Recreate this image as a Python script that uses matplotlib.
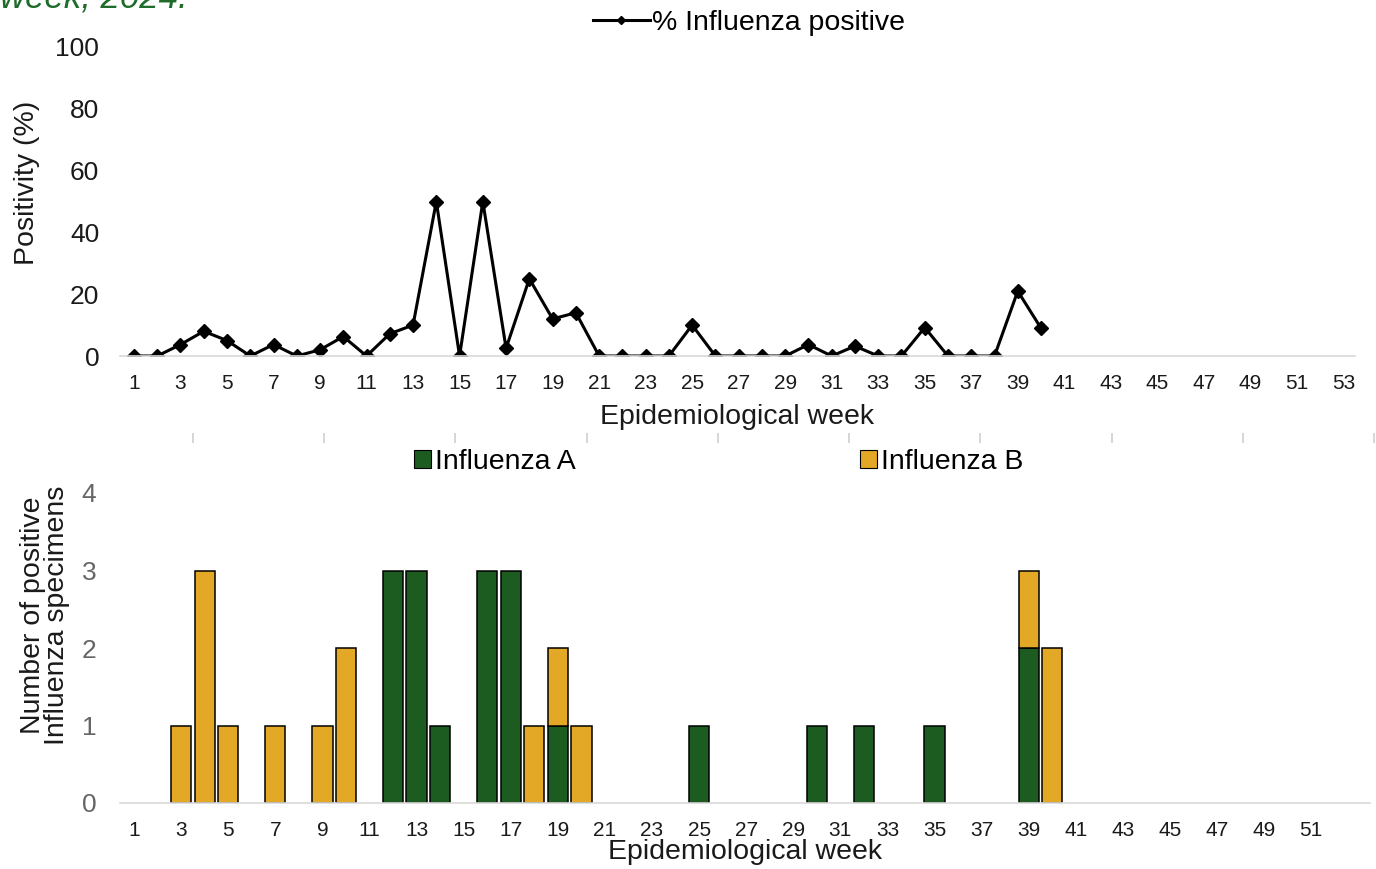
import matplotlib
matplotlib.use("Agg")
import matplotlib.pyplot as plt
from matplotlib.patches import Patch
import numpy as np

plt.rcParams['font.family'] = ['Liberation Sans', 'DejaVu Sans']

# ---- data ----
weeks_pos = list(range(1, 41))
positivity = [0, 0, 3.7, 8, 5, 0, 3.7, 0, 2, 6.3, 0, 7.2, 10, 50, 0, 50, 2.5, 25, 12, 14,
              0, 0, 0, 0, 10, 0, 0, 0, 0, 3.7, 0, 3.2, 0, 0, 9.2, 0, 0, 0, 21, 9]

weeks_bar = list(range(1, 53))
flu_a = [0]*52
flu_b = [0]*52
a_vals = {12: 3, 13: 3, 14: 1, 16: 3, 17: 3, 19: 1, 25: 1, 30: 1, 32: 1, 35: 1, 39: 2}
b_vals = {3: 1, 4: 3, 5: 1, 7: 1, 9: 1, 10: 2, 18: 1, 19: 1, 20: 1, 39: 1, 40: 2}
for w, v in a_vals.items():
    flu_a[w-1] = v
for w, v in b_vals.items():
    flu_b[w-1] = v

top_ticks = list(range(1, 54, 2))
bot_ticks = list(range(1, 52, 2))

green = '#1c5c20'
gold = '#e3a926'
title_green = '#1e6b2a'
txt = '#1a1a1a'
LFS = 20.5

W, H = 1376, 869
fig = plt.figure(figsize=(W/100, H/100), dpi=100)

def fx(px):
    return px / W

def fy(py):
    return 1 - py / H

# title fragment (clipped at top)
fig.text(fx(0), fy(8), "week, 2024.", color=title_green, style='italic',
         fontsize=25, va='baseline', ha='left')

# ---- top panel ----
ax1 = fig.add_axes([fx(120), fy(356), fx(1355) - fx(120), fy(47) - fy(356)])
ax1.plot(weeks_pos, positivity, color='black', lw=2.2, marker='D', markersize=7,
         label='% Influenza positive')
ax1.set_xlim(0.4, 53.5)
ax1.set_ylim(0, 100)
ax1.set_yticks([0, 20, 40, 60, 80, 100])
ax1.set_xticks(top_ticks)
for s in ['top', 'right', 'left']:
    ax1.spines[s].set_visible(False)
ax1.spines['bottom'].set_color('#d9d9d9')
ax1.spines['bottom'].set_linewidth(1.2)
ax1.tick_params(axis='both', length=0)
ax1.tick_params(axis='y', labelsize=19, labelcolor=txt, pad=15)
ax1.tick_params(axis='x', labelsize=15, labelcolor=txt, pad=13)
ax1.set_xlabel('Epidemiological week', fontsize=LFS, color=txt, labelpad=8)
ax1.set_ylabel('Positivity (%)', fontsize=LFS, color=txt)
ax1.yaxis.set_label_coords(-0.065, 0.56)
fig.legend(*ax1.get_legend_handles_labels(), loc='center',
           bbox_to_anchor=(fx(749), fy(23)), frameon=False,
           fontsize=LFS, handlelength=2.0, handletextpad=0.1, markerscale=0.55,
           borderpad=0, borderaxespad=0)

# faint separator ticks
axs = fig.add_axes([fx(193), fy(438), fx(1374) - fx(193), 0.0001])
axs.set_xlim(0, 9)
axs.set_xticks(range(10))
axs.set_xticklabels([])
axs.set_yticks([])
for s in axs.spines.values():
    s.set_visible(False)
axs.tick_params(axis='x', direction='inout', length=7, color='#d0d0d0', width=1.2)
axs.patch.set_visible(False)

# ---- bottom panel ----
a_plot = [v if v else np.nan for v in flu_a]
b_plot = [v if v else np.nan for v in flu_b]
ax2 = fig.add_axes([fx(120), fy(803), fx(1370) - fx(120), fy(493) - fy(803)])
ax2.bar(weeks_bar, a_plot, width=0.86, color=green, edgecolor='black', linewidth=1.1,
        label='Influenza A')
ax2.bar(weeks_bar, b_plot, bottom=flu_a, width=0.86, color=gold, edgecolor='black',
        linewidth=1.1, label='Influenza B')
ax2.set_xlim(0.4, 53.5)
ax2.set_ylim(0, 4)
ax2.set_yticks([0, 1, 2, 3, 4])
ax2.set_xticks(bot_ticks)
for s in ['top', 'right', 'left']:
    ax2.spines[s].set_visible(False)
ax2.spines['bottom'].set_color('#d9d9d9')
ax2.spines['bottom'].set_linewidth(1.2)
ax2.tick_params(axis='both', length=0)
ax2.tick_params(axis='y', labelsize=19, labelcolor='#666666', pad=17)
ax2.tick_params(axis='x', labelsize=15, labelcolor=txt, pad=13)
ax2.set_xlabel('Epidemiological week', fontsize=LFS, color=txt, labelpad=-1)
ax2.set_ylabel('Number of positive\nInfluenza specimens', fontsize=LFS, color=txt,
               linespacing=0.9)
ax2.yaxis.set_label_coords(-0.04, 0.606)
handles = [Patch(facecolor=green, edgecolor='black', linewidth=0.8),
           Patch(facecolor=gold, edgecolor='black', linewidth=0.8)]
fig.legend(handles, ['Influenza A', 'Influenza B'], loc='center',
           bbox_to_anchor=(fx(718.5), fy(462)), ncol=2, frameon=False, fontsize=LFS,
           handlelength=0.6, handleheight=0.6, handletextpad=0.15, columnspacing=9.98,
           borderpad=0, borderaxespad=0)

fig.savefig('out.png', dpi=100)
